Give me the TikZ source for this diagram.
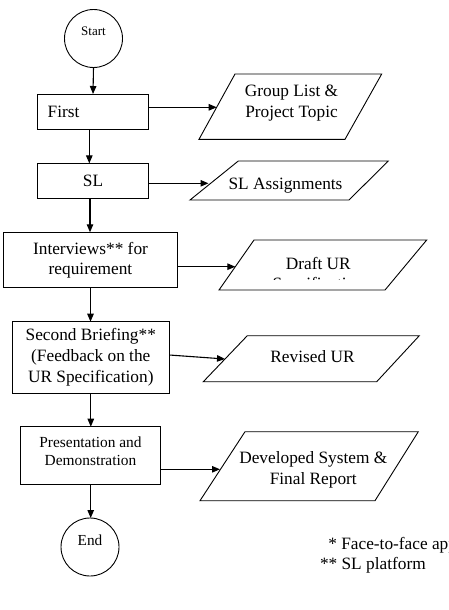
\documentclass[tikz,border=0pt]{standalone}
\usepackage{fontspec}
\setmainfont{Liberation Serif}
\usetikzlibrary{arrows.meta}
\newcommand\mainfnt{\fontsize{17.3}{20.5}\selectfont}
\newcommand\smallfnt{\fontsize{15.4}{17.7}\selectfont}
\begin{document}
\begin{tikzpicture}[x=1pt,y=-1pt,
  every node/.style={inner sep=0pt,outer sep=0pt},
  box/.style={draw,line width=0.9pt,align=center,font=\mainfnt},
  term/.style={draw,circle,line width=0.9pt},
  para/.style={draw,line width=0.9pt,line join=miter},
  txt/.style={font=\mainfnt,align=center},
  arr/.style={line width=1.1pt,-{Triangle[length=8pt,width=6.5pt]}}]
\clip (0,0) rectangle (448,610);
\fill[white] (0,0) rectangle (448,610);

% terminals
\node[term,minimum size=58pt,font=\fontsize{13}{15}\selectfont,text height=8.6pt,text depth=15pt] (start) at (93.5,38.5) {Start};
\node[term,minimum size=58pt,font=\fontsize{15.3}{17}\selectfont,text height=10.1pt,text depth=14.1pt] (end) at (90,547) {End};

% process boxes
\node[box,minimum width=110.6pt,minimum height=35pt,text width=90.6pt,align=left,inner xsep=10pt] (first) at (93,111.5) {First};
\node[box,minimum width=110.6pt,minimum height=35pt] (sl) at (93,180.9) {SL};
\node[box,minimum width=174.4pt,minimum height=55.4pt] (int) at (90.5,260) {Interviews** for\\requirement};
\node[box,minimum width=157pt,minimum height=71.6pt,font=\fontsize{17.3}{20.8}\selectfont] (sec) at (90.8,357.5) {Second Briefing**\\(Feedback on the\\UR Specification)};
\node[box,minimum width=140pt,minimum height=57.6pt] (pres) at (90.7,455.5) {};
\node[font=\smallfnt,align=center] (prestext) at (90.5,451) {Presentation and\\Demonstration};

% data parallelograms
\draw[para] (235,74) -- (381.7,74) -- (345,139.3) -- (199,139.3) -- cycle;
\node[txt] (group) at (291.5,103.2) {Group List \&\\Project Topic};
\draw[para] (238.3,161) -- (388.3,161) -- (349,200) -- (190,200) -- cycle;
\node[txt,anchor=base] (sla) at (285.5,189) {SL Assignments};
\draw[para] (254,240) -- (426.7,240) -- (385,290) -- (219,290) -- cycle;
\node[txt,anchor=base] (draft) at (318.3,269) {Draft UR};
\begin{scope}
  \clip (219,240) rectangle (427,279.6);
  \node[txt,anchor=base] (draftspec) at (318.3,289.5) {Specification};
\end{scope}
\draw[para] (247.3,335.7) -- (419.3,335.7) -- (376.7,381.7) -- (203.3,381.7) -- cycle;
\node[txt,anchor=base] (rev) at (312.5,362.5) {Revised UR};
\draw[para] (245,431.7) -- (418.3,431.7) -- (375,500.7) -- (200,500.7) -- cycle;
\node[txt] (dev) at (313.3,470) {Developed System \&\\Final Report};

% arrow ends on parallelogram edges
\coordinate (gIn) at (216.7,107.3);
\coordinate (sIn) at (208.5,183.3);
\coordinate (dIn) at (235.3,266.7);
\coordinate (rIn) at (225,359);
\coordinate (vIn) at (220,469.3);

% vertical flow
\draw[arr] (start.south) -- (first.north);
\draw[arr] ([xshift=-3.7pt]first.south) -- ([xshift=-3.7pt]sl.north);
\draw[arr] ([xshift=-3pt]sl.south) -- ([xshift=-3pt]sl.south |- int.north);
\draw[arr] (int.south) -- (int.south |- sec.north);
\draw[arr] (sec.south) -- (sec.south |- pres.north);
\draw[arr] (pres.south) -- (pres.south |- end.north);

% horizontal flow
\draw[arr] (first.east |- gIn) -- (gIn);
\draw[arr] (sl.east |- sIn) -- (sIn);
\draw[arr] (int.east |- dIn) -- (dIn);
\draw[arr] ([yshift=2.5pt]sec.east) -- (rIn);
\draw[arr] (pres.east |- vIn) -- (vIn);

% legend
\node[font=\mainfnt,anchor=base west] (leg1) at (328.3,549) {* Face-to-face approach};
\node[font=\mainfnt,anchor=base west] (leg2) at (320,569) {** SL platform};
\end{tikzpicture}
\end{document}
